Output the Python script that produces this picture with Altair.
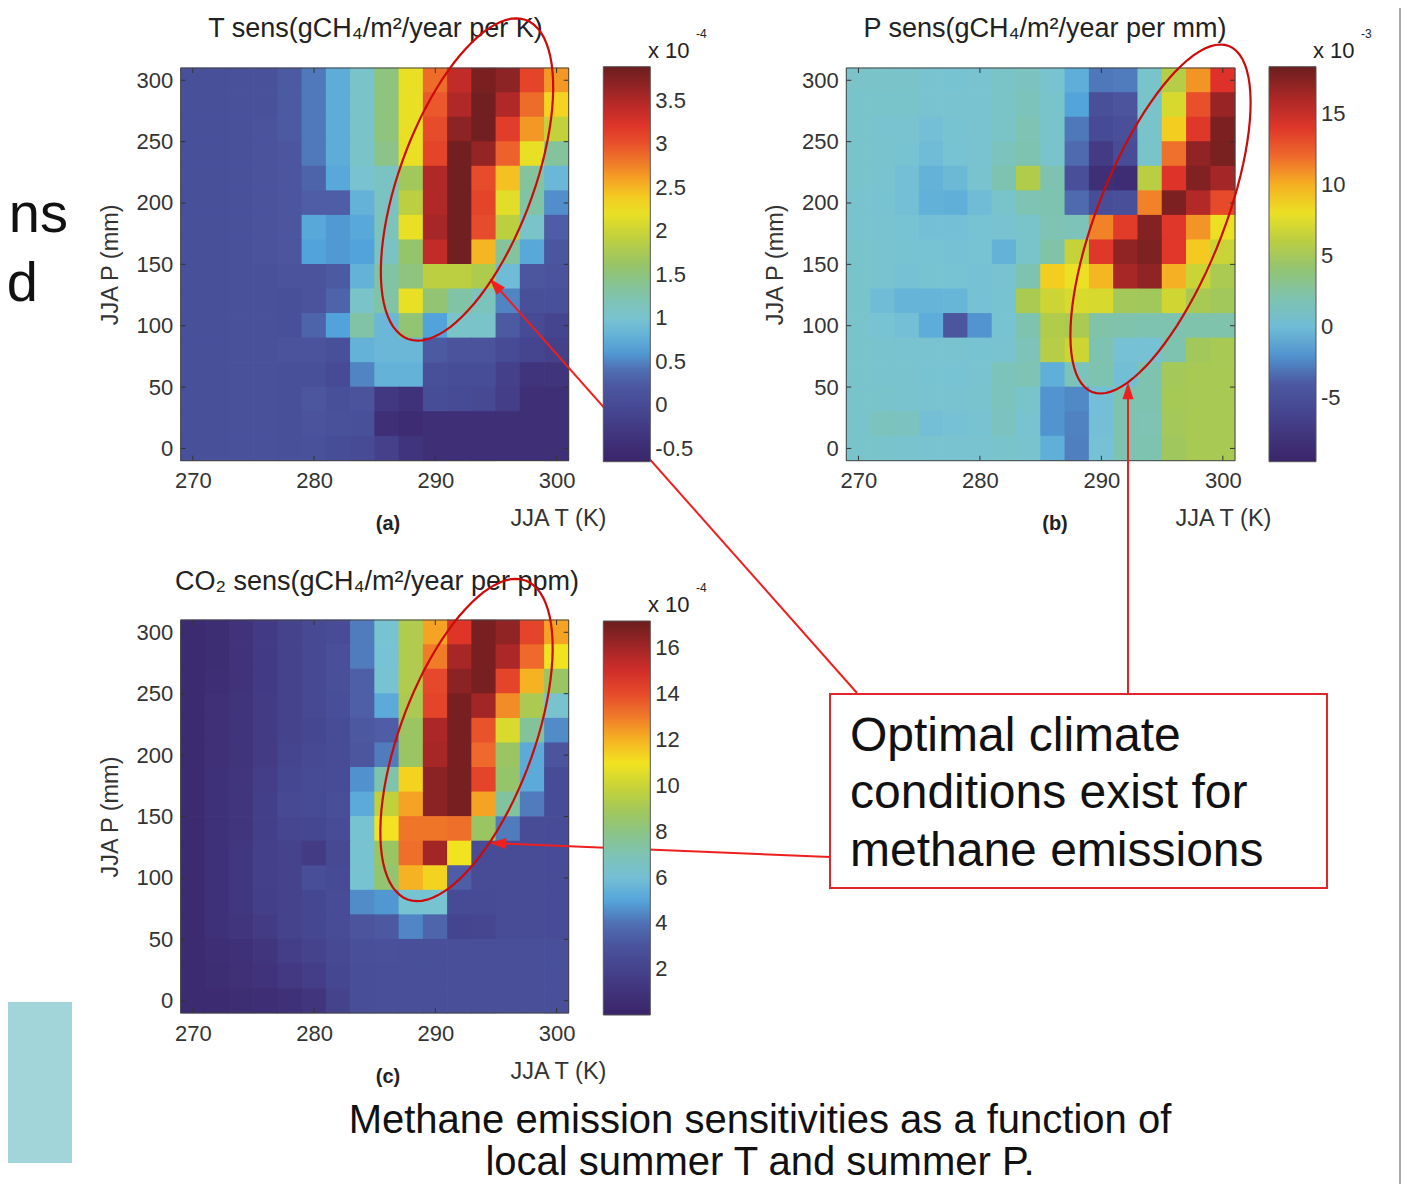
import altair as alt
import pandas as pd

FONT = "Liberation Sans"
W, H = 1404, 1176

# ---------------- data ----------------
T_CENTERS = [270, 272, 274, 276, 278, 280, 282, 284, 286, 288, 290, 292, 294, 296, 298, 300]
P_CENTERS = [300, 280, 260, 240, 220, 200, 180, 160, 140, 120, 100, 80, 60, 40, 20, 0]  # rows top -> bottom
X_TICKS = [270, 280, 290, 300]
Y_TICKS = [0, 50, 100, 150, 200, 250, 300]

# (a) T sensitivity, x 1e-4
T_SENS = [
    [0.10, 0.10, 0.12, 0.12, 0.25, 0.45, 0.75, 1.05, 1.50, 2.20, 2.85, 3.40, 3.80, 3.70, 3.10, 2.65],
    [0.10, 0.10, 0.12, 0.12, 0.25, 0.45, 0.75, 1.05, 1.50, 2.20, 2.95, 3.50, 3.85, 3.50, 2.85, 2.35],
    [0.10, 0.10, 0.12, 0.15, 0.25, 0.45, 0.75, 1.05, 1.50, 2.20, 3.05, 3.70, 3.85, 3.15, 2.65, 1.95],
    [0.10, 0.10, 0.12, 0.15, 0.20, 0.45, 0.75, 1.05, 1.45, 2.20, 3.10, 3.85, 3.65, 2.90, 2.20, 1.35],
    [0.10, 0.10, 0.12, 0.15, 0.20, 0.35, 0.70, 1.00, 1.10, 1.70, 3.50, 3.85, 3.05, 2.45, 1.35, 0.85],
    [0.10, 0.10, 0.12, 0.15, 0.20, 0.30, 0.30, 0.80, 1.10, 1.90, 3.50, 3.85, 3.10, 2.15, 1.30, 0.55],
    [0.10, 0.10, 0.12, 0.15, 0.20, 0.70, 0.60, 0.70, 1.15, 2.20, 3.55, 3.85, 3.05, 1.90, 1.05, 0.30],
    [0.10, 0.10, 0.12, 0.15, 0.20, 0.65, 0.60, 0.65, 1.10, 1.60, 3.40, 3.85, 2.50, 1.35, 0.70, 0.20],
    [0.10, 0.10, 0.12, 0.12, 0.15, 0.15, 0.25, 0.80, 1.30, 1.50, 1.90, 1.90, 1.80, 0.90, 0.20, 0.15],
    [0.10, 0.10, 0.12, 0.12, 0.10, 0.15, 0.35, 1.05, 1.30, 2.20, 1.55, 1.30, 1.15, 0.50, 0.10, 0.10],
    [0.10, 0.10, 0.12, 0.12, 0.10, 0.35, 0.65, 1.30, 0.85, 1.55, 0.65, 1.05, 1.05, 0.25, 0.00, -0.10],
    [0.10, 0.10, 0.12, 0.12, 0.15, 0.15, 0.10, 0.80, 0.85, 0.85, 0.25, 0.15, 0.15, 0.00, -0.10, -0.15],
    [0.10, 0.10, 0.12, 0.12, 0.10, 0.10, 0.00, 0.50, 0.80, 0.80, 0.10, 0.05, 0.05, -0.15, -0.35, -0.35],
    [0.10, 0.10, 0.12, 0.12, 0.10, 0.20, 0.10, 0.15, -0.30, -0.40, 0.05, 0.00, -0.02, -0.20, -0.45, -0.45],
    [0.10, 0.10, 0.12, 0.12, 0.10, 0.15, 0.12, 0.10, -0.45, -0.50, -0.45, -0.45, -0.45, -0.45, -0.45, -0.45],
    [0.10, 0.10, 0.12, 0.12, 0.10, 0.12, 0.05, 0.00, -0.15, -0.35, -0.45, -0.45, -0.45, -0.45, -0.45, -0.45],
]

# (b) P sensitivity, x 1e-3
P_SENS = [
    [0.9, 0.9, 0.9, 0.6, 0.5, 0.6, 1.0, 1.3, 0.6, -0.9, -2.8, -2.7, 0.8, 5.8, 10.8, 14.3],
    [0.8, 0.8, 0.8, 0.6, 0.6, 0.6, 1.0, 1.5, 0.8, -1.5, -5.0, -4.5, 0.8, 7.2, 12.9, 16.7],
    [0.8, 0.6, 0.6, 0.2, 0.5, 0.6, 1.0, 1.8, 0.8, -2.8, -5.5, -5.0, 0.8, 9.1, 14.0, 17.7],
    [0.8, 0.7, 0.5, 0.0, 0.4, 0.6, 1.4, 2.0, 0.8, -3.2, -7.0, -5.3, 0.8, 11.8, 17.0, 17.8],
    [0.8, 0.6, 0.2, -0.6, -0.2, 0.6, 2.0, 5.6, 1.9, -5.0, -8.3, -8.5, 6.0, 14.2, 17.5, 16.3],
    [0.7, 0.5, 0.2, -0.7, -0.8, 0.0, 0.8, 1.8, 2.0, -3.2, -5.2, -5.0, 11.3, 17.7, 15.8, 13.2],
    [0.7, 0.6, 0.4, 0.2, 0.2, 0.4, 0.6, 0.8, 1.8, 1.6, 11.3, 13.8, 17.4, 14.0, 10.8, 8.0],
    [0.8, 0.6, 0.5, 0.4, 0.3, 0.4, -0.6, 0.8, 2.3, 6.5, 14.0, 17.0, 17.6, 14.0, 9.2, 6.7],
    [0.8, 0.6, 0.3, 0.5, 0.4, 0.3, 0.6, 2.0, 9.1, 8.0, 9.8, 16.2, 17.0, 10.0, 6.7, 5.3],
    [0.8, 0.0, -0.5, -0.5, -0.4, 0.3, 0.5, 5.3, 6.8, 7.3, 7.2, 5.0, 4.9, 6.9, 5.2, 4.9],
    [0.8, 0.4, 0.2, -1.0, -4.3, -2.0, 0.5, 2.0, 5.6, 5.3, 2.3, 2.1, 2.0, 2.0, 2.1, 2.1],
    [0.8, 0.7, 0.6, 0.6, 0.6, 0.5, 0.6, 1.6, 5.8, 6.8, 1.9, 0.3, 0.3, 2.0, 4.9, 5.2],
    [0.8, 0.7, 0.7, 0.5, 0.4, 0.6, 1.5, 1.8, -0.8, 1.5, 2.0, 0.1, 2.0, 5.0, 5.2, 5.2],
    [0.8, 0.8, 0.7, 0.6, 0.6, 0.7, 1.4, 0.8, -2.0, -2.3, 0.2, 2.0, 2.0, 5.1, 5.2, 5.2],
    [0.8, 1.4, 1.3, 0.2, 0.3, 0.5, 1.3, 0.6, -2.0, -2.5, 0.2, 2.0, 1.8, 5.0, 5.2, 5.2],
    [0.8, 0.8, 0.7, 0.6, 0.6, 0.6, 0.8, 0.7, -0.8, -2.6, 0.3, 2.0, 2.0, 4.8, 5.2, 5.2],
]

# (c) CO2 sensitivity, x 1e-4
CO2_SENS = [
    [0.5, 0.6, 1.0, 1.5, 2.0, 2.4, 2.6, 4.2, 6.2, 9.3, 12.3, 14.6, 16.9, 16.4, 14.2, 12.3],
    [0.5, 0.6, 1.0, 1.5, 2.0, 2.4, 2.8, 4.2, 6.1, 9.3, 13.0, 15.9, 16.9, 15.8, 13.3, 11.0],
    [0.5, 0.7, 1.0, 1.5, 2.0, 2.4, 2.8, 3.7, 6.2, 9.3, 14.1, 16.5, 16.9, 14.2, 12.0, 8.7],
    [0.5, 0.8, 1.1, 1.6, 2.0, 2.4, 2.7, 3.7, 5.2, 9.2, 14.2, 16.9, 16.0, 12.7, 9.2, 6.3],
    [0.5, 0.8, 1.1, 1.6, 2.0, 2.3, 2.6, 3.3, 3.6, 8.7, 15.8, 16.9, 13.8, 10.4, 7.6, 4.5],
    [0.5, 0.8, 1.1, 1.6, 2.1, 2.4, 2.6, 3.2, 4.2, 8.7, 15.9, 16.9, 13.3, 8.7, 5.2, 3.1],
    [0.5, 0.9, 1.2, 1.7, 2.3, 2.5, 2.6, 4.6, 7.2, 11.4, 16.5, 16.9, 14.2, 8.5, 5.2, 2.6],
    [0.5, 0.9, 1.2, 1.8, 2.4, 2.5, 2.7, 5.2, 9.8, 12.3, 16.5, 16.9, 12.3, 7.5, 4.2, 2.6],
    [0.5, 0.9, 1.2, 1.8, 2.2, 2.3, 2.6, 6.2, 11.0, 13.1, 13.1, 13.2, 8.7, 4.2, 2.6, 2.6],
    [0.5, 0.9, 1.3, 1.9, 2.0, 1.6, 2.4, 6.2, 8.7, 13.2, 16.0, 11.0, 2.6, 2.6, 2.6, 2.6],
    [0.5, 0.9, 1.3, 1.9, 2.0, 2.7, 2.5, 6.2, 8.4, 12.0, 11.4, 3.6, 2.6, 2.6, 2.6, 2.6],
    [0.5, 0.9, 1.3, 1.8, 2.0, 2.3, 2.6, 4.5, 4.7, 6.2, 6.2, 2.5, 2.5, 2.6, 2.6, 2.6],
    [0.5, 0.9, 1.2, 1.6, 2.0, 2.3, 2.6, 3.1, 3.3, 4.4, 3.8, 2.1, 2.2, 2.6, 2.6, 2.6],
    [0.5, 0.7, 0.9, 1.2, 1.7, 2.0, 2.4, 2.8, 2.9, 2.8, 2.8, 2.8, 2.8, 2.8, 2.8, 2.8],
    [0.5, 0.6, 0.8, 1.0, 1.4, 1.7, 2.3, 2.7, 2.8, 2.8, 2.8, 2.8, 2.8, 2.8, 2.8, 2.8],
    [0.5, 0.5, 0.6, 0.7, 0.9, 1.2, 2.0, 2.7, 2.8, 2.8, 2.8, 2.8, 2.8, 2.8, 2.8, 2.8],
]

CB_A_TICKS = [-0.5, 0, 0.5, 1, 1.5, 2, 2.5, 3, 3.5]
CB_B_TICKS = [-5, 0, 5, 10, 15]
CB_C_TICKS = [2, 4, 6, 8, 10, 12, 14, 16]

# colour map (MATLAB-like, evenly spaced stops)
CMAP = ["#3a2468", "#41367f", "#474a94", "#4e5ea6", "#52a3db", "#78c3d4", "#80c3a6",
        "#97c466", "#c2d13a", "#f4e41f", "#f5a424", "#ec5d2c", "#dd3029", "#a42627", "#6a1e1f"]

LBL = "#333333"


def long_table(arr):
    rows = []
    for i, p in enumerate(P_CENTERS):
        for j, t in enumerate(T_CENTERS):
            rows.append({"t": t, "p": p, "v": arr[i][j]})
    return pd.DataFrame(rows)


def panel(arr, xr, yr, cdom, lx, ly, llen, lvals, ytitle_x, xtitle_x, xtitle_y):
    stops = [cdom[0] + (cdom[1] - cdom[0]) * k / (len(CMAP) - 1) for k in range(len(CMAP))]
    xscale = alt.Scale(domain=[269, 301], range=xr, nice=False, zero=False)
    yscale = alt.Scale(domain=[-10, 310], range=yr, nice=False, zero=False)
    xaxis = alt.Axis(orient="bottom", offset=yr[0] - H, values=X_TICKS, ticks=False,
                     domain=False, grid=False, labelFont=FONT, labelFontSize=22,
                     labelColor=LBL, labelPadding=10, labelFlush=False,
                     title="JJA T (K)", titleFont=FONT, titleFontSize=23.5,
                     titleFontWeight="normal", titleColor=LBL, titleX=xtitle_x,
                     titleY=xtitle_y, titleAlign="center", titleBaseline="middle")
    yaxis = alt.Axis(orient="left", offset=-xr[0], values=Y_TICKS, ticks=False,
                     domain=False, grid=False, labelFont=FONT, labelFontSize=22,
                     labelColor=LBL, labelPadding=8, labelFlush=False,
                     title="JJA P (mm)", titleFont=FONT, titleFontSize=23.5,
                     titleFontWeight="normal", titleColor=LBL, titleAngle=270,
                     titleX=ytitle_x - xr[0], titleY=(yr[0] + yr[1]) / 2,
                     titleAlign="center", titleBaseline="middle")
    heatmap = alt.Chart(long_table(arr)).transform_calculate(
        t0="datum.t - 1.03", t1="datum.t + 1.03", p0="datum.p - 10.3", p1="datum.p + 10.3"
    ).mark_rect().encode(
        x=alt.X("t0:Q", scale=xscale, axis=xaxis),
        x2="t1:Q",
        y=alt.Y("p0:Q", scale=yscale, axis=yaxis),
        y2="p1:Q",
        color=alt.Color("v:Q",
                        scale=alt.Scale(domain=stops, range=CMAP, interpolate="rgb"),
                        legend=alt.Legend(orient="none", legendX=lx, legendY=ly,
                                          direction="vertical", gradientLength=llen,
                                          gradientThickness=47, title=None, values=lvals,
                                          labelFont=FONT, labelFontSize=22, labelColor=LBL,
                                          labelOffset=5, labelOverlap=False,
                                          labelExpr="'' + datum.value",
                                          gradientStrokeColor="#555555",
                                          gradientStrokeWidth=1, padding=0)),
    )
    xt = pd.DataFrame({"tv": X_TICKS})
    yt = pd.DataFrame({"pv": Y_TICKS})
    tick_style = dict(color="#333333", strokeWidth=1)
    bottom_ticks = alt.Chart(xt).mark_rule(**tick_style).encode(
        x=alt.X("tv:Q", scale=xscale, axis=xaxis),
        y=alt.value(yr[0]), y2=alt.value(yr[0] - 5))
    top_ticks = alt.Chart(xt).mark_rule(**tick_style).encode(
        x=alt.X("tv:Q", scale=xscale, axis=xaxis),
        y=alt.value(yr[1]), y2=alt.value(yr[1] + 5))
    left_ticks = alt.Chart(yt).mark_rule(**tick_style).encode(
        y=alt.Y("pv:Q", scale=yscale, axis=yaxis),
        x=alt.value(xr[0]), x2=alt.value(xr[0] + 5))
    right_ticks = alt.Chart(yt).mark_rule(**tick_style).encode(
        y=alt.Y("pv:Q", scale=yscale, axis=yaxis),
        x=alt.value(xr[1]), x2=alt.value(xr[1] - 5))
    return alt.layer(heatmap, bottom_ticks, top_ticks, left_ticks, right_ticks)


# panel geometry (pixels inside the chart)
AX = [172.7, 560.7]
BX = [838.3, 1227.0]
TOP_Y = [452.7, 60.0]
BOT_Y = [1005.0, 612.0]

panel_a = panel(T_SENS, AX, TOP_Y, [-0.65, 3.89], 595.3, 58.7, 395, CB_A_TICKS, 102, 550, 57.3)
panel_b = panel(P_SENS, BX, TOP_Y, [-9.5, 18.3], 1261.0, 58.7, 395, CB_B_TICKS, 767, 1215, 57.3)
panel_c = panel(CO2_SENS, AX, BOT_Y, [0.0, 17.2], 595.3, 613.0, 394, CB_C_TICKS, 102, 550, 58)

PX = lambda f: alt.X(f, type="quantitative", scale=None, axis=None)
PY = lambda f: alt.Y(f, type="quantitative", scale=None, axis=None)

# frames around plot areas
frames = pd.DataFrame({
    "x": [AX[0], BX[0], AX[0]], "x2": [AX[1], BX[1], AX[1]],
    "y": [TOP_Y[1], TOP_Y[1], BOT_Y[1]], "y2": [TOP_Y[0], TOP_Y[0], BOT_Y[0]],
})
frame_layer = alt.Chart(frames).mark_rect(fillOpacity=0, stroke="#444444", strokeWidth=1).encode(
    x=PX("x"), x2="x2", y=PY("y"), y2="y2")

# slide fragments
teal = pd.DataFrame({"x": [-8], "x2": [64], "y": [994], "y2": [1155]})
teal_layer = alt.Chart(teal).mark_rect(fill="#a2d5d9").encode(x=PX("x"), x2="x2", y=PY("y"), y2="y2")
vline = pd.DataFrame({"x": [1392], "y": [0], "y2": [H]})
vline_layer = alt.Chart(vline).mark_rule(color="#8c8c8c", strokeWidth=1.5).encode(
    x=PX("x"), y=PY("y"), y2="y2")

# annotation box
box = pd.DataFrame({"x": [822], "x2": [1319], "y": [686], "y2": [880]})
box_layer = alt.Chart(box).mark_rect(fill="white", stroke="#e3262b", strokeWidth=2).encode(
    x=PX("x"), x2="x2", y=PY("y"), y2="y2")

# arrows
ARROW_RED = "#ee1f1f"
arrows = pd.DataFrame({
    "x": [849, 1120, 822], "y": [685, 685, 849],
    "x2": [487.3, 1120, 490.0], "y2": [277.0, 383, 835.3],
})
arrow_layer = alt.Chart(arrows).mark_rule(color=ARROW_RED, strokeWidth=2).encode(
    x=PX("x"), y=PY("y"), x2="x2", y2="y2")
heads = pd.DataFrame({"x": [487.3, 1120, 490.0], "y": [277.0, 383, 835.3], "a": [318.4, 0, 272.4]})
head_layer = alt.Chart(heads).mark_point(
    shape="M0,-1L-0.65,1L0.65,1Z", filled=True, fill=ARROW_RED, stroke=ARROW_RED,
    strokeWidth=0.5, size=256, opacity=1).encode(
    x=PX("x"), y=PY("y"), angle=alt.Angle("a:Q", scale=None))


# ellipses
def ellipse(cx, cy, a, b, th_deg):
    return alt.Chart(alt.sequence(0, 362, 4, as_="t")).transform_calculate(
        th=f"{th_deg} * PI / 180",
    ).transform_calculate(
        ex=f"{cx} + {a} * cos(datum.t * PI / 180) * sin(datum.th) + {b} * sin(datum.t * PI / 180) * cos(datum.th)",
        ey=f"{cy} - {a} * cos(datum.t * PI / 180) * cos(datum.th) + {b} * sin(datum.t * PI / 180) * sin(datum.th)",
    ).mark_line(color="#cc0a0a", strokeWidth=2.2).encode(
        x=PX("ex:Q"), y=PY("ey:Q"), order=alt.Order("t:Q"))


ell_a = ellipse(459, 171.5, 170, 67, 20.3)
ell_c = ellipse(458.5, 732, 170, 67, 20.3)
ell_b = ellipse(1152.5, 211, 186, 63, 21.6)

# texts
titles = pd.DataFrame({
    "x": [367.5, 1037, 369], "y": [21, 21, 574],
    "s": ["T sens(gCH\u2084/m\u00b2/year per K)", "P sens(gCH\u2084/m\u00b2/year per mm)",
          "CO\u2082 sens(gCH\u2084/m\u00b2/year per ppm)"],
})
title_layer = alt.Chart(titles).mark_text(font=FONT, fontSize=27, color="#222222",
                                          align="center", baseline="middle").encode(
    x=PX("x"), y=PY("y"), text="s:N")

letters = pd.DataFrame({"x": [380, 1047, 380], "y": [516, 516, 1069], "s": ["(a)", "(b)", "(c)"]})
letter_layer = alt.Chart(letters).mark_text(font=FONT, fontSize=20, fontWeight="bold",
                                            color="#222222", align="center",
                                            baseline="middle").encode(
    x=PX("x"), y=PY("y"), text="s:N")

mult = pd.DataFrame({"x": [640, 1305, 640], "y": [43, 43, 597], "s": ["x 10", "x 10", "x 10"]})
mult_layer = alt.Chart(mult).mark_text(font=FONT, fontSize=22, color="#222222", align="left",
                                       baseline="middle").encode(x=PX("x"), y=PY("y"), text="s:N")
expo = pd.DataFrame({"x": [688, 1353, 688], "y": [26, 26, 580], "s": ["-4", "-3", "-4"]})
expo_layer = alt.Chart(expo).mark_text(font=FONT, fontSize=12, color="#222222", align="left",
                                       baseline="middle").encode(x=PX("x"), y=PY("y"), text="s:N")

box_text = pd.DataFrame({"x": [842, 842, 842], "y": [743, 800, 858],
                         "s": ["Optimal climate", "conditions exist for", "methane emissions"]})
box_text_layer = alt.Chart(box_text).mark_text(font=FONT, fontSize=48, color="#111111",
                                               align="left", baseline="alphabetic").encode(
    x=PX("x"), y=PY("y"), text="s:N")

caption = pd.DataFrame({"x": [752, 752], "y": [1125, 1167],
                        "s": ["Methane emission sensitivities as a function of",
                              "local summer T and summer P."]})
caption_layer = alt.Chart(caption).mark_text(font=FONT, fontSize=40, color="#111111",
                                             align="center", baseline="alphabetic").encode(
    x=PX("x"), y=PY("y"), text="s:N")

frag = pd.DataFrame({"x": [60, 30], "y": [224, 293], "s": ["ns", "d"]})
frag_layer = alt.Chart(frag).mark_text(font=FONT, fontSize=56, color="#111111", align="right",
                                       baseline="alphabetic").encode(
    x=PX("x"), y=PY("y"), text="s:N")

chart = alt.layer(
    teal_layer, vline_layer, frag_layer,
    panel_a, panel_b, panel_c, frame_layer,
    title_layer, letter_layer, mult_layer, expo_layer,
    box_layer, box_text_layer, caption_layer,
    arrow_layer, head_layer, ell_a, ell_b, ell_c,
).resolve_scale(
    x="independent", y="independent", color="independent"
).properties(
    width=W, height=H, padding=0, autosize=alt.AutoSizeParams(type="none"),
    background="white",
).configure_view(strokeWidth=0)

chart.save("out.html", embed_options={"renderer": "svg", "actions": False})
